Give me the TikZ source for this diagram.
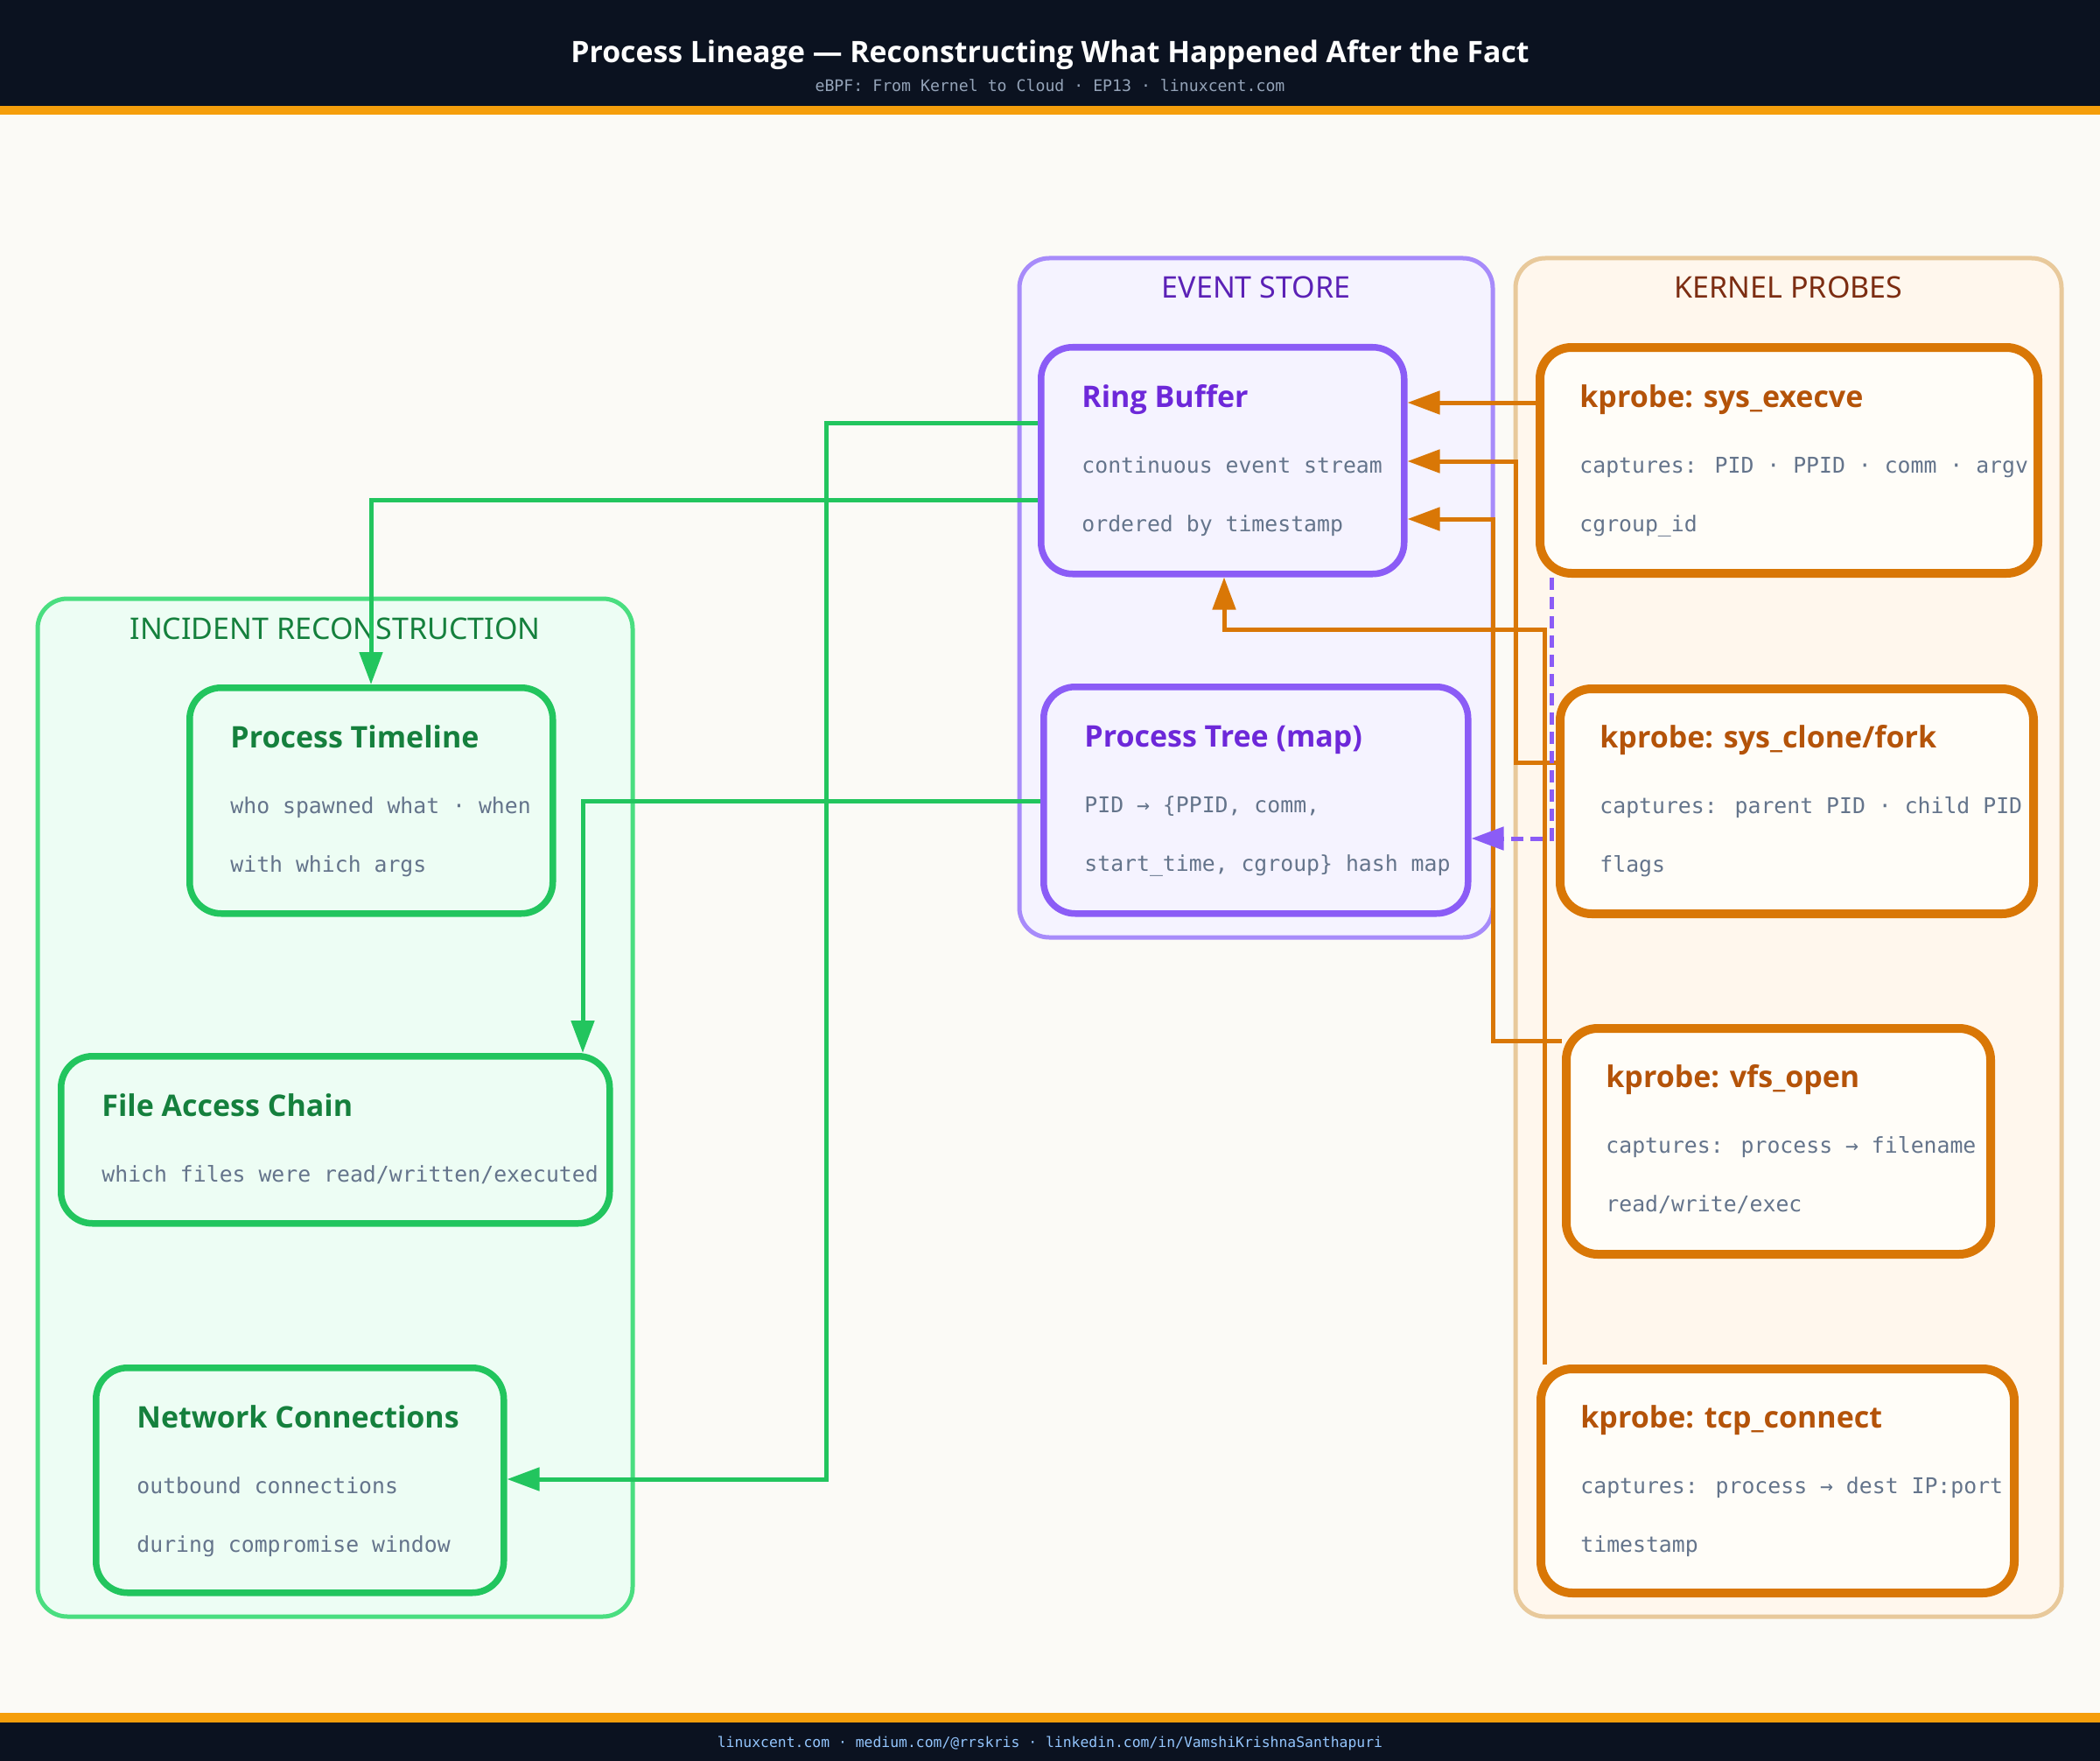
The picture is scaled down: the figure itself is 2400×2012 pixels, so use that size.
\documentclass[tikz,border=0pt]{standalone}
\usepackage{fontspec}
\setmainfont{Noto Sans}
\IfFontExistsTF{Noto Sans Bold}{\newfontfamily\titlef{Noto Sans Bold}}{%
  \IfFontExistsTF{Open Sans Bold}{\newfontfamily\titlef{Open Sans Bold}}{%
    \newfontfamily\titlef{Noto Sans}[FakeBold=2]}}
\newfontfamily\monof{DejaVu Sans Mono}
\usetikzlibrary{arrows.meta,calc}
\definecolor{pagebg}{HTML}{FBFAF6}
\definecolor{hdr}{HTML}{0B1220}
\definecolor{band}{HTML}{F59E0B}
\definecolor{subgray}{HTML}{94A3B8}
\definecolor{footblue}{HTML}{93C5FD}
\definecolor{bodygray}{HTML}{64748B}
\definecolor{gfill}{HTML}{EDFDF4}
\definecolor{gcont}{HTML}{4ADE80}
\definecolor{gbox}{HTML}{22C55E}
\definecolor{gtitle}{HTML}{15803D}
\definecolor{pfill}{HTML}{F5F3FF}
\definecolor{pcont}{HTML}{A78BFA}
\definecolor{pbox}{HTML}{8B5CF6}
\definecolor{pctitle}{HTML}{5B21B6}
\definecolor{ptitle}{HTML}{6D28D9}
\definecolor{ofill}{HTML}{FFF7ED}
\definecolor{ocont}{HTML}{E8C99B}
\definecolor{obox}{HTML}{D97706}
\definecolor{obfill}{HTML}{FFFDF8}
\definecolor{octitle}{HTML}{7C2D12}
\definecolor{otitle}{HTML}{B45309}
\pgfdeclarelayer{bgl}
\pgfdeclarelayer{cont}
\pgfdeclarelayer{lines}
\pgfsetlayers{bgl,cont,lines,main}
\begin{document}
\begin{tikzpicture}[x=0.5pt,y=-0.5pt,
  cont/.style={draw, line width=2.5pt, rounded corners=17pt},
  boxbase/.style={anchor=north west, inner sep=0pt, rounded corners=18pt},
  gboxst/.style={boxbase, draw=gbox, fill=gfill, line width=3.75pt},
  pboxst/.style={boxbase, draw=pbox, fill=pfill, line width=3.75pt},
  oboxst/.style={boxbase, draw=obox, fill=obfill, line width=5pt},
  ctitle/.style={anchor=base, inner sep=0pt, font=\fontsize{17}{20}\selectfont},
  btitle/.style={anchor=base west, inner sep=0pt, font=\titlef\fontsize{17}{20}\selectfont},
  btext/.style={anchor=base west, inner sep=0pt, text=bodygray, font=\monof\fontsize{12.4}{15}\selectfont},
  conn/.style={line width=2.5pt, -{Triangle[length=18.5pt,width=13pt]}},
  gconn/.style={conn, draw=gbox},
  oconn/.style={conn, draw=obox},
  pconn/.style={conn, draw=pbox, dash pattern=on 7pt off 4pt}
]
\useasboundingbox (0,0) rectangle (2400,2012);
\begin{pgfonlayer}{bgl}
\fill[pagebg] (0,0) rectangle (2400,2012);
\fill[hdr] (0,0) rectangle (2400,121);
\fill[band] (0,121) rectangle (2400,131);
\fill[band] (0,1957) rectangle (2400,1968);
\fill[hdr] (0,1968) rectangle (2400,2012);
\end{pgfonlayer}
\node[anchor=base, inner sep=0pt, text=white, font=\titlef\fontsize{16.9}{20}\selectfont] (title) at (1200,72) {Process Lineage — Reconstructing What Happened After the Fact};
\node[anchor=base, inner sep=0pt, text=subgray, font=\monof\fontsize{9.1}{11}\selectfont] (subtitle) at (1200,105) {eBPF: From Kernel to Cloud · EP13 · linuxcent.com};
\node[anchor=base, inner sep=0pt, text=footblue, font=\monof\fontsize{8.2}{10}\selectfont] (footer) at (1200,1996) {linuxcent.com · medium.com/@rrskris · linkedin.com/in/VamshiKrishnaSanthapuri};

% containers
\begin{pgfonlayer}{cont}
\draw[cont, draw=gcont, fill=gfill] (43,684) rectangle (723,1847);
\draw[cont, draw=pcont, fill=pfill] (1165,295) rectangle (1706,1071);
\draw[cont, draw=ocont, fill=ofill] (1732,295) rectangle (2356,1847);
\node[ctitle, text=gtitle] (inctitle) at (383,730) {INCIDENT RECONSTRUCTION};
\node[ctitle, text=pctitle] (evstitle) at (1435.5,341) {EVENT STORE};
\node[ctitle, text=octitle] (kptitle) at (2044,341) {KERNEL PROBES};
\end{pgfonlayer}

% event store boxes
\node[pboxst, minimum width=207.5pt, minimum height=129.5pt] (ring) at (1186,393) {};
\node[btitle, text=ptitle] at (1236,465) {Ring Buffer};
\node[btext] at (1236,540) {continuous event stream};
\node[btext] at (1236,607) {ordered by timestamp};

\node[pboxst, minimum width=242.5pt, minimum height=129.5pt] (ptree) at (1189,781) {};
\node[btitle, text=ptitle] at (1239,853) {Process Tree (map)};
\node[btext] at (1239,928) {PID → \{PPID, comm,};
\node[btext] at (1239,995) {start\_time, cgroup\} hash map};

% kernel probes
\node[oboxst, minimum width=284.5pt, minimum height=129pt] (exec) at (1755,392) {};
\node[btitle, text=otitle] at (1805,465) {kprobe: sys\_execve};
\node[btext] at (1805,540) {captures: PID · PPID · comm · argv};
\node[btext] at (1805,607) {cgroup\_id};

\node[oboxst, minimum width=270.5pt, minimum height=128.5pt] (clone) at (1778,782) {};
\node[btitle, text=otitle] at (1828,854) {kprobe: sys\_clone/fork};
\node[btext] at (1828,929) {captures: parent PID · child PID};
\node[btext] at (1828,996) {flags};

\node[oboxst, minimum width=242.5pt, minimum height=129pt] (vfs) at (1785,1170) {};
\node[btitle, text=otitle] at (1835,1242) {kprobe: vfs\_open};
\node[btext] at (1835,1317) {captures: process → filename};
\node[btext] at (1835,1384) {read/write/exec};

\node[oboxst, minimum width=270.5pt, minimum height=128pt] (tcp) at (1756,1559) {};
\node[btitle, text=otitle] at (1806,1631) {kprobe: tcp\_connect};
\node[btext] at (1806,1706) {captures: process → dest IP:port};
\node[btext] at (1806,1773) {timestamp};

% incident reconstruction
\node[gboxst, minimum width=207.5pt, minimum height=129pt] (tl) at (213,782) {};
\node[btitle, text=gtitle] at (263,854) {Process Timeline};
\node[btext] at (263,929) {who spawned what · when};
\node[btext] at (263,996) {with which args};

\node[gboxst, minimum width=313.5pt, minimum height=95.5pt] (fac) at (66,1203) {};
\node[btitle, text=gtitle] at (116,1275) {File Access Chain};
\node[btext] at (116,1350) {which files were read/written/executed};

\node[gboxst, minimum width=233pt, minimum height=128.5pt] (net) at (106,1559) {};
\node[btitle, text=gtitle] at (156,1631) {Network Connections};
\node[btext] at (156,1706) {outbound connections};
\node[btext] at (156,1773) {during compromise window};

% connectors
\begin{pgfonlayer}{lines}
\draw[gconn] (ring.west |- 0,483) -- (944,483) -- (944,1690) -- (net.east |- 0,1690);
\draw[gconn] (ring.west |- 0,571) -| (424,0 |- tl.north);
\draw[gconn] (ptree.west |- 0,915) -| (666,0 |- fac.north);
\draw[oconn] (exec.west |- 0,460) -- (ring.east |- 0,460);
\draw[oconn] (clone.west |- 0,871) -- (1732,871) -- (1732,527) -- (ring.east |- 0,527);
\draw[oconn] (vfs.west |- 0,1189) -- (1706,1189) -- (1706,593) -- (ring.east |- 0,593);
\draw[oconn] (1765,0 |- tcp.north) -- (1765,719) -- (1399,719) -- (1399,0 |- ring.south);
\draw[pconn] (1773,0 |- exec.south) -- (1773,958) -- (ptree.east |- 0,958);
\end{pgfonlayer}
\end{tikzpicture}
\end{document}
